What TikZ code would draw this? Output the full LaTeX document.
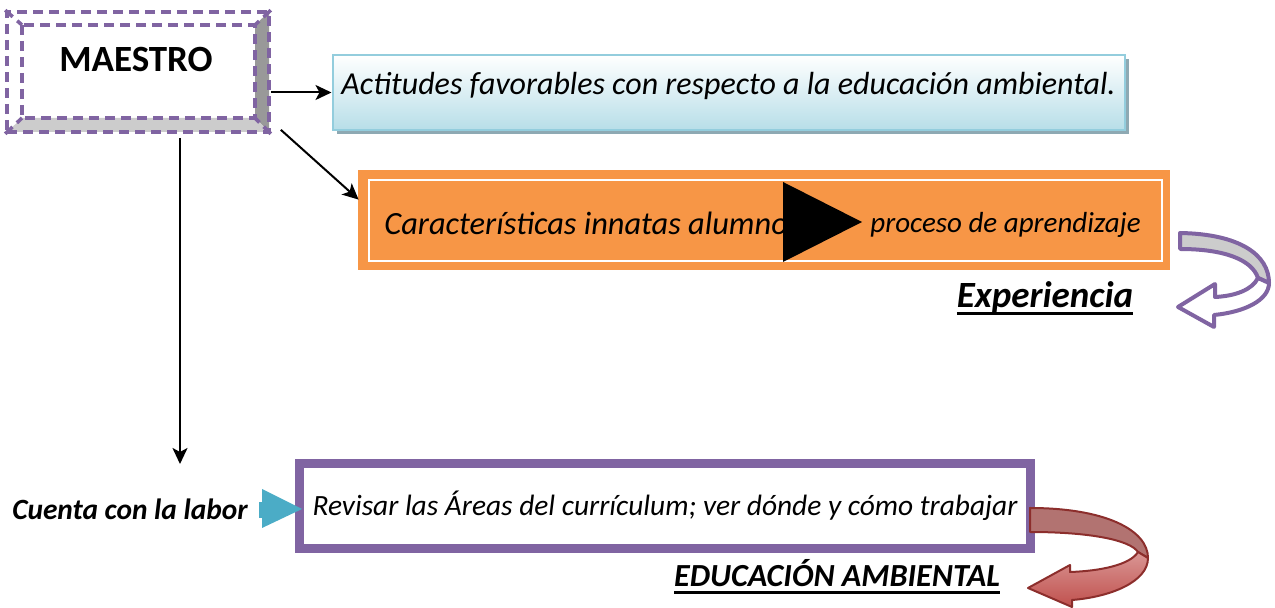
\documentclass[tikz,border=0pt]{standalone}
\usepackage{fontspec}
\setmainfont{Carlito}
\usepackage{tikz}
\usetikzlibrary{arrows.meta,positioning,calc,shadows}
\definecolor{ink}{HTML}{000000}
\definecolor{mpurple}{HTML}{8064A2}
\definecolor{morange}{HTML}{F79646}
\definecolor{mteal}{HTML}{4BACC6}
\definecolor{skyline}{HTML}{93CDDD}
\definecolor{skyfill}{HTML}{B7DEE8}
\definecolor{skyshadow}{HTML}{8EA9B3}
\definecolor{bevdark}{HTML}{999999}
\definecolor{bevlight}{HTML}{CCCCCC}
\definecolor{mred}{HTML}{C0504D}
\definecolor{mredback}{HTML}{B27371}
\definecolor{mredline}{HTML}{8C2E2C}
\newcommand{\ulthick}[1]{\setbox0=\hbox{#1}\rlap{\rule[-3.4pt]{\wd0}{1.5pt}}\box0}
\tikzset{
  dashline/.style={draw=mpurple,line width=1.8pt,dash pattern=on 5pt off 3pt},
  maestrobox/.style={dashline,minimum width=131pt,minimum height=60pt,inner sep=0pt},
  skybox/.style={draw=skyline,line width=1pt,top color=white,bottom color=skyfill,
                 minimum width=396pt,minimum height=37.5pt,inner sep=0pt,
                 text height=11pt,text depth=9pt,
                 font=\fontsize{16}{19}\selectfont\itshape,
                 drop shadow={shadow xshift=2pt,shadow yshift=-2pt,fill=skyshadow,opacity=1}},
  orangebox/.style={fill=morange,minimum width=406pt,minimum height=50pt,inner sep=0pt},
  bandbox/.style={draw=mpurple,line width=4pt,fill=white,minimum width=366pt,
                  minimum height=43pt,inner sep=0pt,
                  font=\fontsize{14.7}{17}\selectfont\itshape},
  plaintext/.style={inner sep=0pt,font=\fontsize{16.2}{19}\selectfont\itshape},
  boldtext/.style={inner sep=0pt,font=\fontsize{14.7}{17}\selectfont\bfseries\itshape},
  flowarr/.style={-{Stealth[length=8pt,width=7.5pt,inset=2pt]},line width=1pt,color=ink}
}
\begin{document}
\begin{tikzpicture}[x=0.5pt,y=-0.5pt]
  \useasboundingbox (0,0) rectangle (1275,608);

  % bevelled teacher box
  \fill[bevdark] (255,25) -- (269,12) -- (269,132) -- (255,118) -- cycle;
  \fill[bevlight] (22,118) -- (255,118) -- (269,132) -- (7,132) -- cycle;
  \node[maestrobox] (maestro) at (138,72) {};
  \draw[dashline] (22,25) rectangle (255,118);
  \draw[dashline] (maestro.north west) -- (22,25);
  \draw[dashline] (maestro.north east) -- (255,25);
  \draw[dashline] (maestro.south east) -- (255,118);
  \draw[dashline] (maestro.south west) -- (22,118);
  \node[inner sep=0pt,font=\fontsize{18.5}{21}\selectfont\bfseries] (maestrotxt) at (136,60) {MAESTRO};

  % attitudes
  \node[skybox] (actitudes) at (728.5,92.5) {Actitudes favorables con respecto a la educación ambiental.};
  \draw[flowarr] (maestro.east |- actitudes.west) -- (actitudes.west);

  % innate characteristics
  \node[orangebox] (caract) at (764,220) {};
  \draw[white,line width=1pt] ($(caract.north west)+(11,10)$) rectangle ($(caract.south east)+(-8,-9)$);
  \node[plaintext,anchor=west] (innatas) at (384,223) {Características innatas alumno};
  \node[plaintext,anchor=west,font=\fontsize{14.5}{17}\selectfont\itshape] (proceso) at (870,225) {proceso de aprendizaje};
  \fill[ink] (783,182) -- (862,222) -- (783,262) -- cycle;
  \draw[flowarr] ($(maestro.south east)+(10,-4)$) -- ($(caract.north west)+(1,30)$);

  % experience arrow
  \fill[bevlight,draw=mpurple,line width=2pt,line join=round]
    (1180,233) .. controls (1240,234) and (1269,255) .. (1269,283)
    -- (1258,278) .. controls (1252,260) and (1225,249) .. (1180,249) -- cycle;
  \fill[white,draw=mpurple,line width=2pt,line join=round]
    (1269,283) .. controls (1269,300) and (1245,312) .. (1214,315)
    -- (1214,327) -- (1178,307) -- (1215,284) -- (1215,297)
    .. controls (1235,296) and (1252,290) .. (1258,278) -- cycle;
  \node[inner sep=0pt,anchor=base,font=\fontsize{18.5}{21}\selectfont\bfseries\itshape] (experiencia) at (1045,308) {\ulthick{Experiencia}};

  % curriculum
  \node[bandbox] (revisar) at (665,506) {Revisar las Áreas del currículum; ver dónde y cómo trabajar};
  \draw[mpurple,line width=0.9pt] ($(revisar.north west)+(8,8)$) rectangle ($(revisar.south east)+(-8,-8)$);
  \node[boldtext] (cuenta) at (130,509) {Cuenta con la labor};
  \coordinate (labtop) at (180,464);
  \draw[flowarr] ($(maestro.south -| labtop)+(0,4)$) -- (labtop);
  \fill[mteal] (259,502) rectangle (263,518);
  \fill[mteal] (262,489) -- (302,509) -- (262,528) -- cycle;

  % environmental education arrow
  \fill[mredback,draw=mredline,line width=1pt,line join=round]
    (1030,508) .. controls (1105,508) and (1148,530) .. (1148,558)
    -- (1138,552) .. controls (1130,540) and (1090,532) .. (1030,532) -- cycle;
  \shade[top color=mred!60!white,bottom color=mred,draw=mredline,line width=1pt,line join=round]
    (1148,558) .. controls (1148,582) and (1110,597) .. (1072,600)
    -- (1072,607) -- (1028,588) -- (1070,565) -- (1070,572)
    .. controls (1100,571) and (1130,565) .. (1138,552) -- cycle;
  \node[inner sep=0pt,anchor=base,font=\fontsize{16.1}{18}\selectfont\bfseries\itshape] (eduamb) at (837,587) {\ulthick{EDUCACIÓN AMBIENTAL}};
\end{tikzpicture}
\end{document}
